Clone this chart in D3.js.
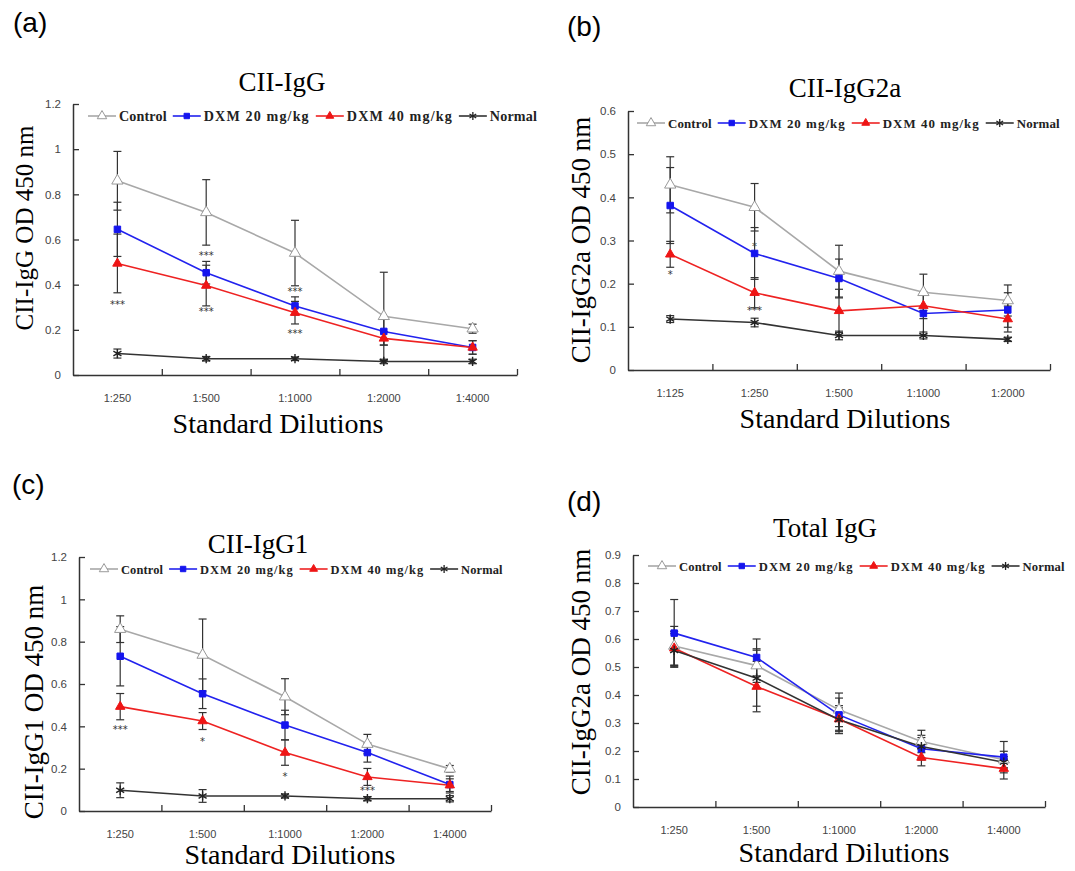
<!DOCTYPE html>
<html>
<head>
<meta charset="utf-8">
<script src="https://cdn.jsdelivr.net/npm/d3@7"></script>
<style>
body { margin: 0; background: #fff; }
text { font-family: "Liberation Serif", "Times New Roman", serif; }
.tag { font-family: "Liberation Sans", Arial, sans-serif; font-size: 28px; }
.tick text { font-family: "Liberation Sans", Arial, sans-serif; font-size: 11.5px; fill: #444; }
.xlab { font-family: "Liberation Sans", Arial, sans-serif; font-size: 11px; fill: #444; }
.star { font-family: "DejaVu Sans", sans-serif; font-size: 10px; fill: #333; }
</style>
</head>
<body>
<script>

var width = 1075,
    height = 871;

// series & categories
var seriesNames = ["Control", "DXM 20 mg/kg", "DXM 40 mg/kg", "Normal"];
var dilutions = ["1:250", "1:500", "1:1000", "1:2000", "1:4000"];
var dilutionsG2a = ["1:125", "1:250", "1:500", "1:1000", "1:2000"];

// (a) CII-IgG
var iggControl = [0.86, 0.72, 0.54, 0.26, 0.205];
var iggDxm20   = [0.645, 0.453, 0.306, 0.193, 0.122];
var iggDxm40   = [0.494, 0.396, 0.276, 0.162, 0.122];
var iggNormal  = [0.095, 0.072, 0.072, 0.060, 0.060];
var iggControlSd = [0.13, 0.145, 0.145, 0.195, 0.02];
var iggDxm20Sd   = [0.12, 0.05, 0.04, 0.06, 0.03];
var iggDxm40Sd   = [0.13, 0.09, 0.05, 0.03, 0.03];
var iggNormalSd  = [0.02, 0.01, 0.008, 0.01, 0.01];
var iggStars = [[0, 0.322, "***"], [1, 0.542, "***"], [1, 0.292, "***"], [2, 0.379, "***"], [2, 0.196, "***"]];

// (b) CII-IgG2a
var g2aControl = [0.429, 0.377, 0.229, 0.18, 0.161];
var g2aDxm20   = [0.381, 0.27, 0.212, 0.131, 0.139];
var g2aDxm40   = [0.268, 0.179, 0.137, 0.149, 0.118];
var g2aNormal  = [0.118, 0.11, 0.08, 0.08, 0.071];
var g2aControlSd = [0.065, 0.055, 0.06, 0.042, 0.036];
var g2aDxm20Sd   = [0.088, 0.06, 0.045, 0.05, 0.04];
var g2aDxm40Sd   = [0.03, 0.035, 0.05, 0.03, 0.03];
var g2aNormalSd  = [0.008, 0.01, 0.01, 0.008, 0.005];
var g2aStars = [[0, 0.228, "*"], [1, 0.293, "*"], [1, 0.143, "***"]];

// (c) CII-IgG1
var g1Control = [0.859, 0.737, 0.54, 0.316, 0.199];
var g1Dxm20   = [0.731, 0.554, 0.406, 0.276, 0.125];
var g1Dxm40   = [0.493, 0.425, 0.276, 0.161, 0.122];
var g1Normal  = [0.098, 0.071, 0.071, 0.058, 0.058];
var g1ControlSd = [0.063, 0.17, 0.085, 0.046, 0.016];
var g1Dxm20Sd   = [0.14, 0.07, 0.07, 0.045, 0.04];
var g1Dxm40Sd   = [0.062, 0.04, 0.06, 0.04, 0.03];
var g1NormalSd  = [0.035, 0.03, 0.01, 0.01, 0.015];
var g1Stars = [[0, 0.398, "***"], [1, 0.338, "*"], [2, 0.177, "*"], [3, 0.11, "***"]];

// (d) Total IgG
var totControl = [0.575, 0.505, 0.347, 0.234, 0.169];
var totDxm20   = [0.621, 0.534, 0.329, 0.208, 0.178];
var totDxm40   = [0.567, 0.43, 0.314, 0.177, 0.137];
var totNormal  = [0.559, 0.46, 0.312, 0.216, 0.16];
var totControlSd = [0.07, 0.06, 0.06, 0.04, 0.03];
var totDxm20Sd   = [0.12, 0.066, 0.06, 0.04, 0.056];
var totDxm40Sd   = [0.06, 0.09, 0.04, 0.03, 0.037];
var totNormalSd  = [0.06, 0.1, 0.05, 0.04, 0.02];
var totStars = [];

// look of each series
var lineColor = ["#a8a8a8", "#2222ee", "#ee2222", "#333"];
var markFill = ["#fff", "#1515ee", "#ee1515", "none"];
var markStroke = ["#999", "#1515ee", "#ee1515", "#222"];
var markType = [d3.symbolTriangle, d3.symbolSquare, d3.symbolTriangle, d3.symbolAsterisk];
var markSize = [55, 42, 38, 60];

var panels = [
  { tag: "(a)", tagX: 13, tagY: 32, title: "CII-IgG", titleX: 282, titleY: 91,
    yTitle: "CII-IgG OD 450 nm", yTitleX: 33, yTitleY: 228, yTitleSize: 25,
    xTitleX: 278, xTitleY: 433,
    x0: 73, x1: 517, yTop: 104, yBot: 375, yMax: 1.2, yStep: 0.2,
    cats: dilutions, vals: [iggControl, iggDxm20, iggDxm40, iggNormal],
    sds: [iggControlSd, iggDxm20Sd, iggDxm40Sd, iggNormalSd], stars: iggStars,
    legX: 88, legY: 116, legW: 449 },
  { tag: "(b)", tagX: 567, tagY: 36, title: "CII-IgG2a", titleX: 845, titleY: 97,
    yTitle: "CII-IgG2a OD 450 nm", yTitleX: 590, yTitleY: 240, yTitleSize: 27,
    xTitleX: 845, xTitleY: 428,
    x0: 628, x1: 1050, yTop: 111, yBot: 370, yMax: 0.6, yStep: 0.1,
    cats: dilutionsG2a, vals: [g2aControl, g2aDxm20, g2aDxm40, g2aNormal],
    sds: [g2aControlSd, g2aDxm20Sd, g2aDxm40Sd, g2aNormalSd], stars: g2aStars,
    legX: 637, legY: 123, legW: 423 },
  { tag: "(c)", tagX: 12, tagY: 494, title: "CII-IgG1", titleX: 258, titleY: 553,
    yTitle: "CII-IgG1 OD 450 nm", yTitleX: 43, yTitleY: 702, yTitleSize: 27,
    xTitleX: 290, xTitleY: 864,
    x0: 79, x1: 491, yTop: 557, yBot: 811, yMax: 1.2, yStep: 0.2,
    cats: dilutions, vals: [g1Control, g1Dxm20, g1Dxm40, g1Normal],
    sds: [g1ControlSd, g1Dxm20Sd, g1Dxm40Sd, g1NormalSd], stars: g1Stars,
    legX: 90, legY: 569, legW: 413 },
  { tag: "(d)", tagX: 567, tagY: 511, title: "Total IgG", titleX: 825, titleY: 537,
    yTitle: "CII-IgG2a OD 450 nm", yTitleX: 590, yTitleY: 672, yTitleSize: 27,
    xTitleX: 844, xTitleY: 862,
    x0: 633, x1: 1045, yTop: 555, yBot: 807, yMax: 0.9, yStep: 0.1,
    cats: dilutions, vals: [totControl, totDxm20, totDxm40, totNormal],
    sds: [totControlSd, totDxm20Sd, totDxm40Sd, totNormalSd], stars: totStars,
    legX: 648, legY: 566, legW: 417 }
];

var svg = d3.select("body").append("svg")
    .attr("width", width)
    .attr("height", height);

panels.forEach(drawPanel);

function drawPanel(p) {
    var g = svg.append("g");

    var x = d3.scaleBand().domain(p.cats).range([p.x0, p.x1]);
    var xEdge = d3.scaleLinear().domain([0, p.cats.length]).range([p.x0, p.x1]);
    var y = d3.scaleLinear().domain([0, p.yMax]).range([p.yBot, p.yTop]);
    var cx = function(i) { return x(p.cats[i]) + x.bandwidth() / 2; };

    g.append("text").attr("class", "tag")
        .attr("x", p.tagX).attr("y", p.tagY).text(p.tag);
    g.append("text")
        .attr("x", p.titleX).attr("y", p.titleY)
        .attr("text-anchor", "middle")
        .style("font-size", "27px")
        .text(p.title);
    g.append("text")
        .attr("transform", "translate(" + p.yTitleX + "," + p.yTitleY + ") rotate(-90)")
        .attr("text-anchor", "middle")
        .style("font-size", p.yTitleSize + "px")
        .text(p.yTitle);
    g.append("text")
        .attr("x", p.xTitleX).attr("y", p.xTitleY)
        .attr("text-anchor", "middle")
        .style("font-size", "28px")
        .text("Standard Dilutions");

    // axes, Excel style ticks pointing inwards
    var yTicks = d3.range(0, p.yMax + p.yStep / 2, p.yStep);
    var yAxis = g.append("g")
        .attr("transform", "translate(" + p.x0 + ",0)")
        .call(d3.axisLeft(y).tickValues(yTicks).tickSize(-6).tickSizeOuter(0).tickPadding(12)
            .tickFormat(function(d) { return +d.toFixed(1); }));
    var xAxis = g.append("g")
        .attr("transform", "translate(0," + p.yBot + ")")
        .call(d3.axisBottom(xEdge).tickValues(d3.range(1, p.cats.length + 1)).tickSize(-6)
            .tickSizeOuter(0).tickFormat(""));
    [yAxis, xAxis].forEach(function(a) {
        a.select(".domain").attr("stroke", "#333").attr("stroke-width", 1.5);
        a.selectAll(".tick line").attr("stroke", "#333").attr("stroke-width", 1.3);
    });

    g.selectAll(".xlab").data(p.cats).enter().append("text")
        .attr("class", "xlab")
        .attr("x", function(d, i) { return cx(i); })
        .attr("y", p.yBot + 27)
        .attr("text-anchor", "middle")
        .text(function(d) { return d; });

    // error bars
    p.vals.forEach(function(vals, s) {
        var eb = g.append("g").attr("stroke", "#333").attr("stroke-width", 1.2);
        vals.forEach(function(v, i) {
            var lo = y(Math.max(0, v - p.sds[s][i])), hi = y(v + p.sds[s][i]);
            eb.append("line").attr("x1", cx(i)).attr("x2", cx(i)).attr("y1", lo).attr("y2", hi);
            eb.append("line").attr("x1", cx(i) - 4).attr("x2", cx(i) + 4).attr("y1", lo).attr("y2", lo);
            eb.append("line").attr("x1", cx(i) - 4).attr("x2", cx(i) + 4).attr("y1", hi).attr("y2", hi);
        });
    });

    var line = d3.line()
        .x(function(d, i) { return cx(i); })
        .y(function(d) { return y(d); });

    p.vals.forEach(function(vals, s) {
        g.append("path").datum(vals)
            .attr("fill", "none")
            .attr("stroke", lineColor[s])
            .attr("stroke-width", 1.6)
            .attr("d", line);
    });
    p.vals.forEach(function(vals, s) {
        g.selectAll(null).data(vals).enter().append("path")
            .attr("transform", function(d, i) { return "translate(" + cx(i) + "," + y(d) + ")"; })
            .attr("d", d3.symbol(markType[s], markSize[s]))
            .attr("fill", markFill[s])
            .attr("stroke", markStroke[s])
            .attr("stroke-width", s === 3 ? 1.4 : 1);
    });

    g.selectAll(".star").data(p.stars).enter().append("text")
        .attr("class", "star")
        .attr("x", function(d) { return cx(d[0]); })
        .attr("y", function(d) { return y(d[1]) + 6; })
        .attr("text-anchor", "middle")
        .text(function(d) { return d[2]; });

    // legend across the top of the plot; font sized to span legW
    var leg = g.append("g").attr("transform", "translate(" + p.legX + "," + p.legY + ")");
    var lineLen = 28, pad = 3, gap = 6;
    var labels = seriesNames.map(function(name) {
        return leg.append("text")
            .attr("y", 5)
            .style("font-size", "14px")
            .style("font-weight", "bold")
            .style("letter-spacing", name.indexOf("DXM") === 0 ? "0.08em" : "0.01em")
            .style("fill", "#222")
            .text(name);
    });
    var textW = d3.sum(labels, function(t) { return t.node().getComputedTextLength(); });
    var fs = 14 * (p.legW - 4 * (lineLen + pad) - 3 * gap) / textW;
    labels.forEach(function(t) { t.style("font-size", fs + "px"); });
    var pos = 0;
    labels.forEach(function(t, s) {
        leg.append("line")
            .attr("x1", pos).attr("x2", pos + lineLen)
            .attr("stroke", lineColor[s]).attr("stroke-width", 1.6);
        leg.append("path")
            .attr("transform", "translate(" + (pos + lineLen / 2) + ",0)")
            .attr("d", d3.symbol(markType[s], markSize[s] * 0.7))
            .attr("fill", markFill[s])
            .attr("stroke", markStroke[s])
            .attr("stroke-width", s === 3 ? 1.3 : 1);
        pos += lineLen + pad;
        t.attr("x", pos);
        pos += t.node().getComputedTextLength() + gap;
    });
}

</script>
</body>
</html>
